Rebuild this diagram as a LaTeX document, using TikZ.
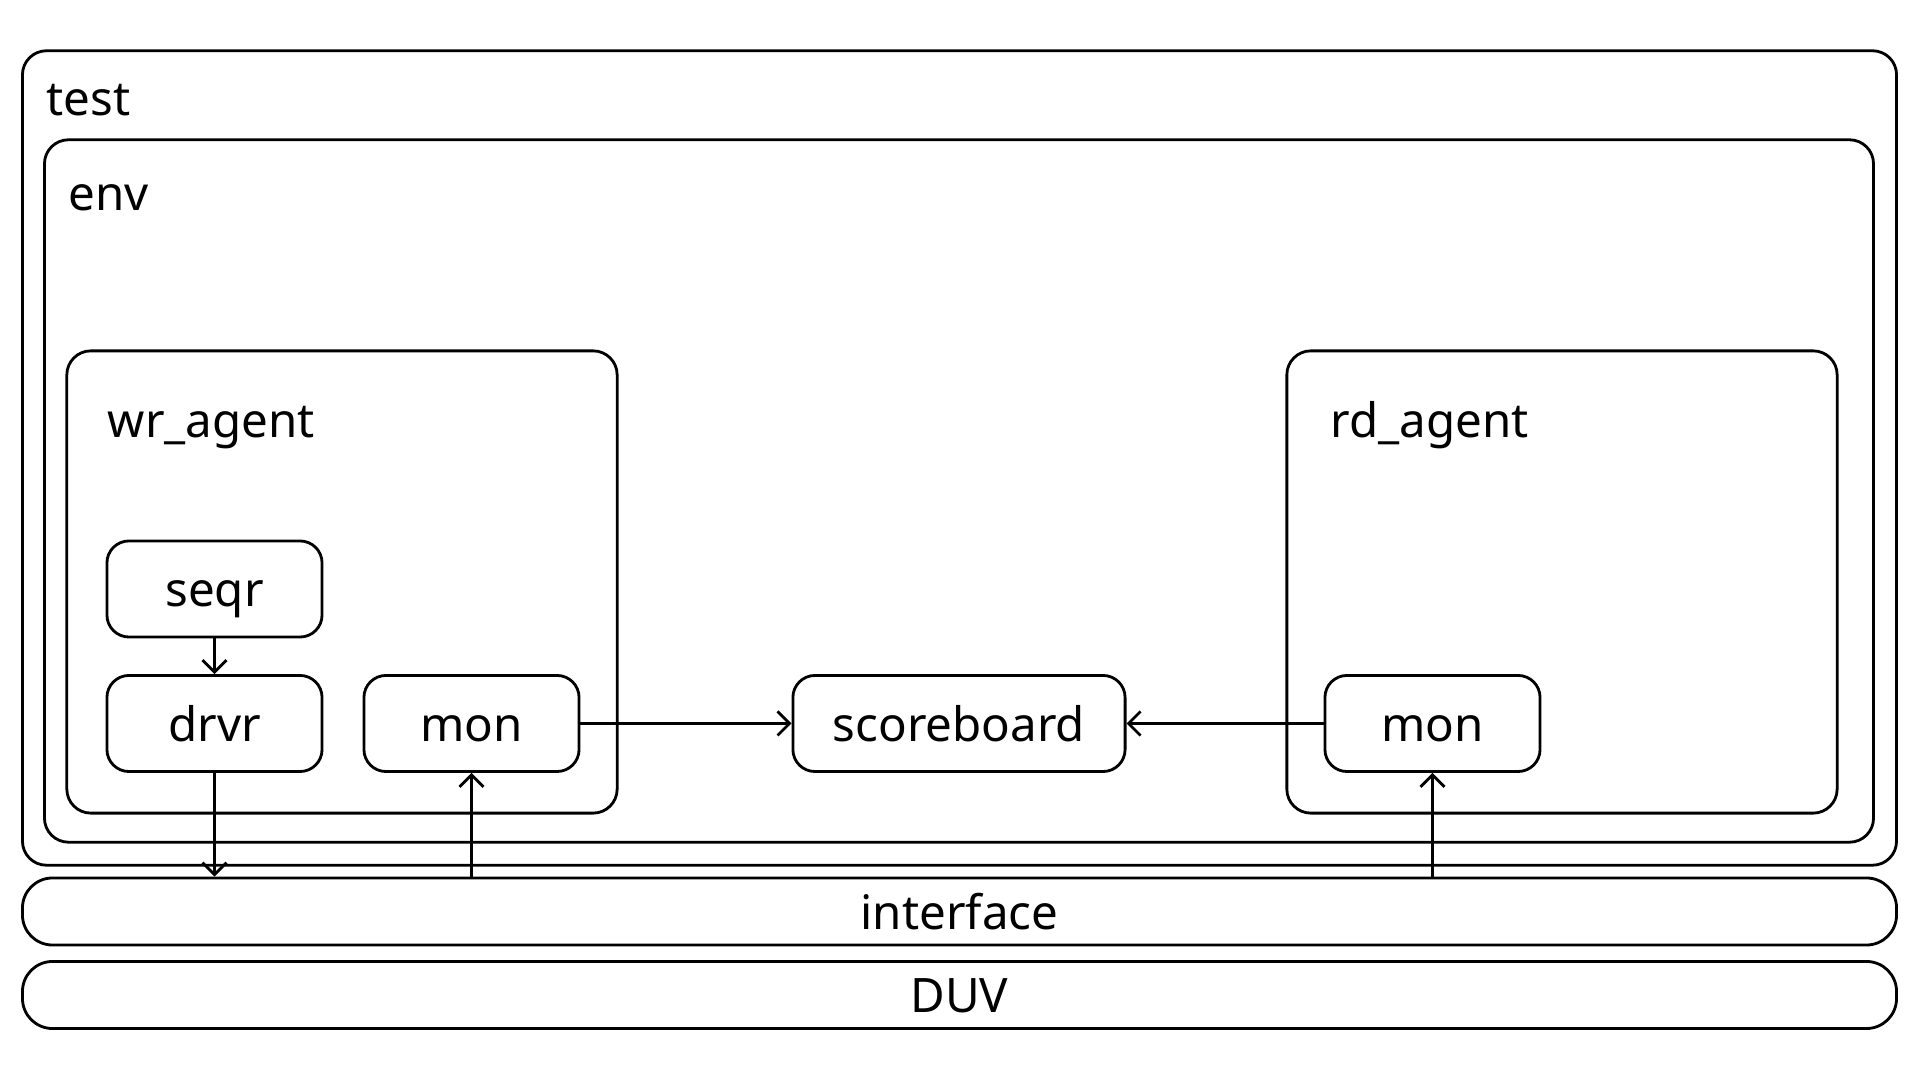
\documentclass[tikz,border=0pt]{standalone}
\usepackage{fontspec}
\setmainfont{Noto Sans}
\usetikzlibrary{arrows.meta}
\tikzset{
    blk/.style={draw, line width=0.8pt, rounded corners=0.24cm, inner sep=0pt},
    unit/.style={blk, rounded corners=0.22cm, minimum width=2.15cm, minimum height=0.96cm, text height=10pt, text depth=0pt},
    bus/.style={blk, rounded corners=0.3cm, minimum width=18.73cm, minimum height=0.67cm, text height=10pt, text depth=0pt},
    tag/.style={anchor=base west, inner sep=0pt},
    conn/.style={line width=0.8pt, -{Straight Barb[length=1.2mm,width=2.4mm,line width=0.8pt]}}
}
\begin{document}
\begin{tikzpicture}[x=0.01cm, y=-0.01cm, every node/.style={font=\fontsize{13.5pt}{16pt}\selectfont}]{
    \useasboundingbox (0,0) rectangle (1920,1080);
    % containers
    \node [blk, minimum width=18.73cm, minimum height=8.14cm] (Test) at (959.5,458) {};
    \node [tag] (TestLbl) at (46,116) {test};
    \node [blk, minimum width=18.28cm, minimum height=7.02cm] (Env) at (959,491) {};
    \node [tag] (EnvLbl) at (68,211) {env};
    \node [blk, minimum width=5.50cm, minimum height=4.62cm] (WrAgent) at (342,582) {};
    \node [tag] (WrAgentLbl) at (107,438) {wr\_agent};
    \node [blk, minimum width=5.50cm, minimum height=4.62cm] (RdAgent) at (1562,582) {};
    \node [tag] (RdAgentLbl) at (1330,438) {rd\_agent};

    % components
    \node [unit] (Seqr) at (214.5,589) {seqr};
    \node [unit] (Drvr) at (214.5,723.5) {drvr};
    \node [unit] (WrMon) at (471.5,723.5) {mon};
    \node [unit, minimum width=3.32cm] (Scoreboard) at (959,723.5) {scoreboard};
    \node [unit] (RdMon) at (1432.5,723.5) {mon};

    % buses
    \node [bus] (Interface) at (959.5,911.5) {interface};
    \node [bus] (DUV) at (959.5,995) {DUV};

    \coordinate (DrvrIf) at (Drvr.south |- Interface.north);
    \coordinate (WrMonIf) at (WrMon.south |- Interface.north);
    \coordinate (RdMonIf) at (RdMon.south |- Interface.north);

    \path [conn] (Seqr) edge (Drvr);
    \path [conn] (Drvr) edge (DrvrIf);
    \path [conn] (WrMonIf) edge (WrMon);
    \path [conn] (RdMonIf) edge (RdMon);
    \path [conn] (WrMon) edge (Scoreboard);
    \path [conn] (RdMon) edge (Scoreboard);
}
\end{tikzpicture}
\end{document}
